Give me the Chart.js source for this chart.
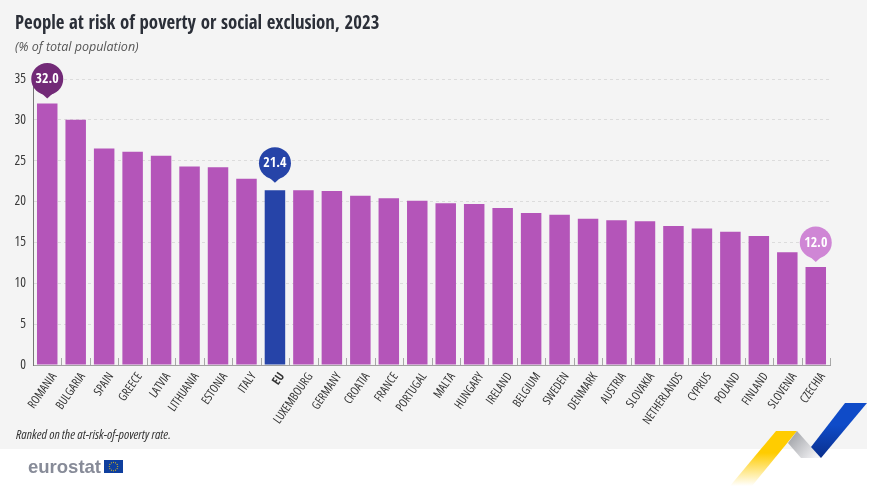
<!DOCTYPE html>
<html>
<head>
<meta charset="utf-8">
<script src="https://cdn.jsdelivr.net/npm/chart.js@4"></script>
<style>
html, body { margin: 0; padding: 0; background: #fff; overflow: hidden; }
#page { position: relative; width: 886px; height: 493px; }
#panel { position: absolute; left: 0; top: 0; width: 867px; height: 449px; background: #f4f4f4; }
#c { position: absolute; left: 0; top: 0; }
.txt { position: absolute; white-space: nowrap; color: #333; }
#title { left: 15px; top: 8px; font: bold 20px "Open Sans Condensed", sans-serif; color: #2b2f38; transform: scaleX(0.94); transform-origin: left top; }
#subtitle { left: 15px; top: 38px; font: italic 12.5px "Open Sans", sans-serif; color: #555; }
#note { left: 16px; top: 425px; font: italic condensed 13px "Open Sans", sans-serif; }
#brand { left: 28px; top: 456px; font: bold 18.5px "Liberation Sans", sans-serif; color: #878b98; }
svg { position: absolute; left: 0; top: 0; }
</style>
</head>
<body>
<div id="page">
  <div id="panel"></div>
  <svg width="886" height="493">
    <defs>
      <linearGradient id="yellow" x1="0" y1="431" x2="0" y2="486" gradientUnits="userSpaceOnUse">
        <stop offset="0.4" stop-color="#ffcc00"/><stop offset="1" stop-color="#ffffff"/>
      </linearGradient>
      <linearGradient id="grey" x1="790" y1="436" x2="815" y2="458" gradientUnits="userSpaceOnUse">
        <stop offset="0" stop-color="#a2a4a9"/><stop offset="1" stop-color="#f2f2f4"/>
      </linearGradient>
      <linearGradient id="blue" x1="0" y1="403" x2="0" y2="458" gradientUnits="userSpaceOnUse">
        <stop offset="0.4" stop-color="#0f4bc8"/><stop offset="1" stop-color="#0a2f8c"/>
      </linearGradient>
    </defs>
    <polygon points="776,431 797,431 752,486 730,486" fill="url(#yellow)"/>
    <polygon points="797,431 821,458 801,458 788,443" fill="url(#grey)"/>
    <polygon points="845,403 867,403 821,458 811,447" fill="url(#blue)"/>
    <rect x="104" y="460" width="19" height="13" fill="#0f3f9e"/>
    <g id="stars" fill="#ffcc00"></g>
  </svg>
  <canvas id="c" width="886" height="493"></canvas>
  <div class="txt" id="title">People at risk of poverty or social exclusion, 2023</div>
  <div class="txt" id="subtitle">(% of total population)</div>
  <div class="txt" id="note">Ranked on the at-risk-of-poverty rate.</div>
  <div class="txt" id="brand">eurostat</div>
</div>
<script>
const countries = ['ROMANIA', 'BULGARIA', 'SPAIN', 'GREECE', 'LATVIA', 'LITHUANIA', 'ESTONIA', 'ITALY', 'EU',
    'LUXEMBOURG', 'GERMANY', 'CROATIA', 'FRANCE', 'PORTUGAL', 'MALTA', 'HUNGARY', 'IRELAND', 'BELGIUM', 'SWEDEN',
    'DENMARK', 'AUSTRIA', 'SLOVAKIA', 'NETHERLANDS', 'CYPRUS', 'POLAND', 'FINLAND', 'SLOVENIA', 'CZECHIA'];
const rates = [32.0, 30.0, 26.5, 26.1, 25.6, 24.3, 24.2, 22.8, 21.4,
    21.4, 21.3, 20.7, 20.4, 20.1, 19.8, 19.7, 19.2, 18.6, 18.4,
    17.9, 17.7, 17.6, 17.0, 16.7, 16.3, 15.8, 13.8, 12.0];
const calloutCountries = ['ROMANIA', 'EU', 'CZECHIA'];
const calloutColors = ['#722a77', '#2644a8', '#cf86d5'];

// flag stars
const stars = document.getElementById('stars');
for (let i = 0; i < 12; i++) {
    const a = i * Math.PI / 6;
    const dot = document.createElementNS('http://www.w3.org/2000/svg', 'circle');
    dot.setAttribute('cx', 113.5 + 4.2 * Math.cos(a));
    dot.setAttribute('cy', 466.5 + 4.2 * Math.sin(a));
    dot.setAttribute('r', 0.55);
    stars.appendChild(dot);
}

// small ticks between the bars, they go up from the axis
const betweenTicks = {
    id: 'betweenTicks',
    afterDatasetsDraw(chart) {
        const { ctx, scales: { x, y } } = chart;
        const base = y.getPixelForValue(0);
        const step = x.getPixelForValue(1) - x.getPixelForValue(0);
        ctx.save();
        ctx.strokeStyle = '#a8a8a8';
        ctx.lineWidth = 1;
        ctx.beginPath();
        countries.forEach((name, i) => {
            const px = Math.round(x.getPixelForValue(i) + step / 2) + 0.5;
            ctx.moveTo(px, base);
            ctx.lineTo(px, base - 7);
        });
        ctx.stroke();
        ctx.restore();
    }
};

// round value bubbles over the highlighted bars
const callouts = {
    id: 'callouts',
    afterDatasetsDraw(chart) {
        const { ctx, scales: { x, y } } = chart;
        ctx.save();
        calloutCountries.forEach((name, k) => {
            const i = countries.indexOf(name);
            const px = x.getPixelForValue(i);
            const top = y.getPixelForValue(rates[i]);
            // the EU bubble sits a little higher than the other two
            const lift = name === 'EU' ? 27 : 24.5;
            const cy = top - lift;
            const tip = top - lift + 19.5;
            ctx.fillStyle = calloutColors[k];
            ctx.beginPath();
            ctx.arc(px, cy, 16, 0, Math.PI * 2);
            ctx.fill();
            ctx.beginPath();
            ctx.moveTo(px - 6, cy + 14);
            ctx.lineTo(px, tip);
            ctx.lineTo(px + 6, cy + 14);
            ctx.closePath();
            ctx.fill();
            ctx.fillStyle = '#fff';
            ctx.font = 'bold 14px "Open Sans Condensed", sans-serif';
            ctx.textAlign = 'center';
            ctx.textBaseline = 'middle';
            ctx.fillText(rates[i].toFixed(1), px, cy + 0.5);
        });
        ctx.restore();
    }
};

new Chart(document.getElementById('c').getContext('2d'), {
    type: 'bar',
    data: {
        labels: countries,
        datasets: [{
            data: rates,
            backgroundColor: countries.map(n => n === 'EU' ? '#2644a8' : '#b455b9'),
            barPercentage: 0.72,
            categoryPercentage: 1
        }]
    },
    options: {
        responsive: false,
        animation: false,
        layout: { padding: { top: 79, right: 56, left: 0, bottom: 0 } },
        plugins: { legend: { display: false }, title: { display: false }, tooltip: { enabled: false } },
        scales: {
            x: {
                afterFit(scale) { scale.height = 128; },
                grid: { display: false },
                border: { color: '#a0a0a0', width: 1 },
                ticks: {
                    autoSkip: false,
                    minRotation: 55,
                    maxRotation: 55,
                    padding: -3,
                    labelOffset: 7,
                    color: '#333',
                    // chart.js copies weight into the font string as is, so the stretch keyword can ride along
                    font: ctx => ({
                        family: '"Open Sans", sans-serif',
                        size: 12,
                        weight: countries[ctx.index] === 'EU' ? 'bold condensed' : 'condensed'
                    })
                }
            },
            y: {
                min: 0,
                max: 35,
                afterFit(scale) { scale.width = 33; },
                grid: { color: '#dcdcdc', drawTicks: false },
                border: { color: '#777', width: 1, dash: [3, 3] },
                ticks: {
                    stepSize: 5,
                    padding: 7,
                    color: '#3a3a3a',
                    font: { family: '"Open Sans", sans-serif', size: 13.5, weight: 'condensed' }
                }
            }
        }
    },
    plugins: [betweenTicks, callouts]
});
</script>
</body>
</html>
